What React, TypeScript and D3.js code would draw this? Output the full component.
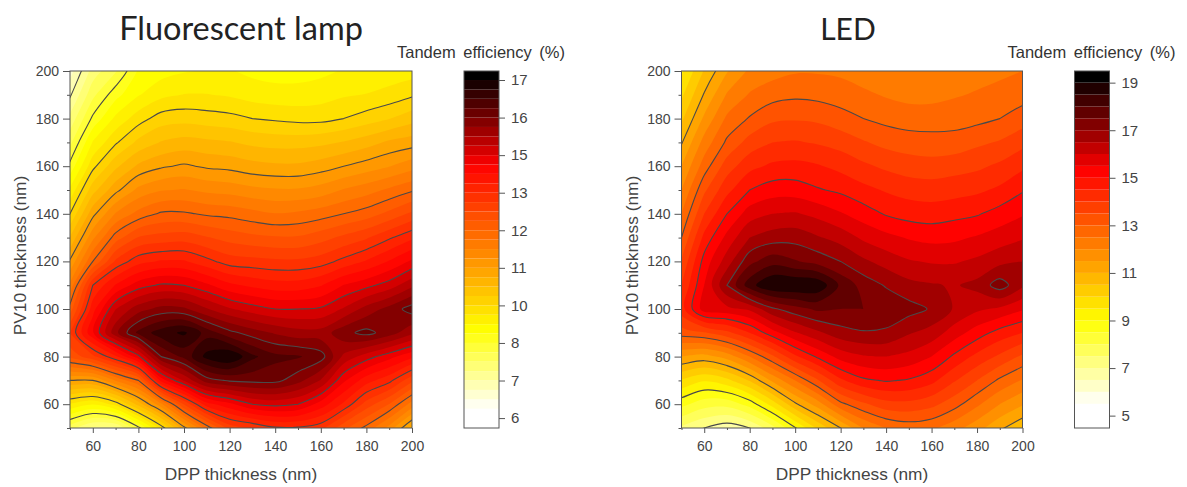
import React, { useEffect, useRef } from 'react';
import * as d3 from 'd3';

// grid of the maps, nm
const dppThickness = [50, 60, 70, 80, 90, 100, 110, 120, 130, 140, 150, 160, 170, 180, 190, 200];
const pvThickness = [50, 60, 70, 80, 90, 100, 110, 120, 130, 140, 150, 160, 170, 180, 190, 200];

const axisMajor = [60, 80, 100, 120, 140, 160, 180, 200];
const axisMinor = [50, 70, 90, 110, 130, 150, 170, 190];

// efficiency, one list per DPP thickness, PV10 going from 50 to 200
const lampEfficiency = [
  [7.9, 9.3, 10.9, 12.55, 13.1, 12.3, 11.6, 10.95, 10.3, 9.65, 9.1, 8.5, 8.0, 7.55, 7.1, 6.7],
  [7.4, 9.05, 10.9, 13.0, 14.3, 13.9, 13.4, 12.15, 11.45, 10.8, 10.15, 9.55, 9.05, 8.47, 8.0, 7.6],
  [7.4, 9.45, 11.55, 13.65, 15.5, 14.95, 14.05, 13.15, 12.3, 11.55, 10.8, 10.2, 9.6, 9.1, 8.6, 8.05],
  [8.3, 10.4, 12.15, 14.55, 16.3, 15.45, 14.5, 13.6, 12.8, 11.95, 11.3, 10.65, 10.05, 9.5, 9.0, 8.75],
  [9.45, 11.45, 14.15, 15.9, 16.7, 15.7, 14.7, 13.75, 12.9, 12.2, 11.5, 10.85, 10.3, 9.8, 9.25, 8.9],
  [10.8, 12.8, 15.0, 16.3, 16.9, 15.65, 14.65, 13.75, 12.95, 12.2, 11.55, 10.95, 10.4, 9.85, 9.35, 9.0],
  [11.95, 13.9, 15.75, 16.95, 16.4, 15.3, 14.4, 13.5, 12.8, 12.1, 11.45, 10.85, 10.35, 9.8, 9.35, 9.05],
  [12.9, 14.25, 15.95, 17.15, 16.0, 15.0, 14.1, 13.25, 12.65, 12.05, 11.4, 10.8, 10.3, 9.75, 9.3, 9.05],
  [13.1, 14.65, 16.0, 16.6, 15.75, 14.8, 13.95, 13.2, 12.55, 11.95, 11.3, 10.7, 10.2, 9.65, 9.2, 8.95],
  [13.35, 14.75, 16.0, 16.3, 15.55, 14.65, 13.85, 13.15, 12.5, 11.85, 11.25, 10.65, 10.15, 9.6, 9.15, 8.9],
  [13.35, 14.65, 15.7, 16.25, 15.4, 14.65, 13.85, 13.15, 12.5, 11.9, 11.25, 10.65, 10.15, 9.55, 9.15, 8.9],
  [13.2, 14.2, 15.25, 16.05, 15.4, 14.7, 14.0, 13.25, 12.65, 12.0, 11.35, 10.75, 10.2, 9.55, 9.2, 8.95],
  [12.55, 13.65, 14.4, 15.2, 15.8, 15.0, 14.35, 13.5, 12.85, 12.15, 11.55, 10.9, 10.3, 9.65, 9.3, 9.05],
  [12.05, 12.95, 13.85, 14.8, 16.0, 15.4, 14.55, 13.75, 13.05, 12.3, 11.7, 11.05, 10.45, 9.8, 9.35, 9.1],
  [11.4, 12.45, 13.5, 14.45, 15.75, 15.7, 14.8, 14.05, 13.35, 12.55, 11.9, 11.2, 10.65, 9.95, 9.45, 9.15],
  [10.5, 11.7, 12.85, 14.1, 15.35, 16.05, 15.2, 14.4, 13.65, 12.85, 12.1, 11.4, 10.75, 10.15, 9.6, 9.2],
];

const ledEfficiency = [
  [7.4, 8.65, 9.95, 11.5, 13.25, 14.3, 14.0, 13.55, 13.0, 12.5, 12.0, 11.5, 10.95, 10.4, 9.9, 9.4],
  [7.0, 8.2, 9.55, 11.3, 13.45, 15.76, 15.5, 15.2, 14.65, 14.0, 13.4, 12.75, 12.2, 11.6, 11.05, 10.55],
  [6.7, 8.17, 9.85, 11.7, 13.85, 15.85, 17.0, 16.25, 15.65, 15.0, 14.35, 13.75, 13.1, 12.6, 12.05, 11.45],
  [7.0, 8.7, 10.55, 12.5, 14.5, 16.1, 18.3, 17.35, 16.5, 15.75, 15.0, 14.35, 13.7, 13.05, 12.55, 12.1],
  [7.8, 9.7, 11.6, 13.4, 15.3, 16.9, 19.0, 17.8, 16.75, 16.0, 15.25, 14.6, 14.0, 13.4, 12.8, 12.3],
  [8.95, 10.9, 12.5, 14.4, 15.95, 17.3, 19.0, 17.55, 16.8, 16.05, 15.25, 14.65, 14.05, 13.45, 12.9, 12.45],
  [10.1, 11.75, 13.45, 15.1, 16.4, 17.6, 18.9, 17.3, 16.55, 15.85, 15.05, 14.55, 13.95, 13.4, 12.85, 12.45],
  [11.0, 12.85, 14.4, 15.7, 16.8, 17.5, 17.9, 17.0, 16.3, 15.55, 14.9, 14.35, 13.8, 13.2, 12.75, 12.4],
  [12.0, 13.4, 14.9, 15.95, 16.95, 17.5, 17.3, 16.6, 15.9, 15.25, 14.65, 14.1, 13.55, 13.0, 12.6, 12.25],
  [12.5, 13.8, 15.05, 16.0, 16.9, 17.4, 16.95, 16.3, 15.65, 14.95, 14.45, 13.9, 13.35, 12.85, 12.45, 12.1],
  [12.7, 13.85, 14.95, 15.85, 16.55, 17.2, 16.65, 16.05, 15.45, 14.8, 14.3, 13.75, 13.25, 12.75, 12.35, 12.05],
  [12.6, 13.65, 14.65, 15.5, 16.3, 16.95, 16.55, 15.95, 15.35, 14.75, 14.25, 13.7, 13.2, 12.75, 12.35, 12.1],
  [12.2, 13.2, 14.05, 14.9, 15.75, 16.45, 16.45, 15.95, 15.4, 14.85, 14.3, 13.8, 13.2, 12.8, 12.45, 12.2],
  [11.7, 12.6, 13.5, 14.35, 15.25, 16.1, 16.65, 16.1, 15.55, 14.95, 14.4, 13.9, 13.4, 12.85, 12.55, 12.3],
  [11.1, 12.0, 12.9, 13.9, 14.8, 15.9, 17.25, 16.35, 15.75, 15.2, 14.6, 14.1, 13.55, 13.0, 12.65, 12.4],
  [10.6, 11.55, 12.45, 13.4, 14.5, 15.55, 16.6, 16.5, 15.95, 15.45, 14.95, 14.4, 13.85, 13.25, 12.8, 12.5],
];

// contour lines, they are also the colour bar ticks
const lampLevels = [5.9, 7.15, 8.4, 9.65, 10.9, 12.15, 13.4, 14.65, 15.9, 17.15];
const ledLevels = [5, 7, 9, 11, 13, 15, 17, 19];

// value where the palette hits white, yellow, red, black
const lampStops = [6.2, 8.85, 14.3, 17.3];
const ledStops = [5.5, 9, 15.3, 19.25];
const heatColors = ['#ffffff', '#ffff00', '#ff0000', '#000000'];

const FONT = '"Liberation Sans", Arial, sans-serif';
const INK = '#444';
const PLOT_TOP = 71;
const PLOT_BOTTOM = 428;

type PanelProps = {
  title: string;
  titleX: number;
  titleSize: number;
  left: number;
  right: number;
  barLeft: number;
  values: number[][];
  levels: number[];
  stops: number[];
  barDomain: number[];
  clipId: string;
};

function Panel(props: PanelProps) {
  const { title, titleX, titleSize, left, right, barLeft, values, levels, stops, barDomain, clipId } = props;
  const xAxisRef = useRef<SVGGElement>(null);
  const yAxisRef = useRef<SVGGElement>(null);
  const barAxisRef = useRef<SVGGElement>(null);

  const x = d3.scaleLinear().domain([50, 200]).range([left, right]);
  const y = d3.scaleLinear().domain([50, 200]).range([PLOT_BOTTOM, PLOT_TOP]);
  const barY = d3.scaleLinear().domain(barDomain).range([PLOT_BOTTOM, PLOT_TOP]);
  const barRight = barLeft + 35;

  const color = d3
    .scaleLinear<string>()
    .domain(stops)
    .range(heatColors)
    .interpolate(d3.interpolateRgb)
    .clamp(true);

  // four colour bands between two ticks
  const step = (levels[1] - levels[0]) / 4;
  const bands = d3.range(1, (levels.length - 1) * 4 + 1).map((i) => levels[0] + i * step);

  // d3.contours wants one flat list, top row first. One extra cell on each side, outside
  // the clip, so the rounded rings don't bend toward the grid border inside the plot
  const nx = dppThickness.length;
  const ny = pvThickness.length;
  const at = (col: number, row: number): number => {
    if (col < 0) return 2 * at(0, row) - at(1, row);
    if (col >= nx) return 2 * at(nx - 1, row) - at(nx - 2, row);
    if (row < 0) return 2 * at(col, 0) - at(col, 1);
    if (row >= ny) return 2 * at(col, ny - 1) - at(col, ny - 2);
    return values[col][row];
  };
  const flat: number[] = [];
  for (let row = ny; row >= -1; row--) {
    for (let col = -1; col <= nx; col++) flat.push(at(col, row));
  }
  const contours = d3.contours().size([nx + 2, ny + 2]);

  // rounds the corners of the marching squares rings, grid points sit on half integers
  const ringLine = d3
    .line<number[]>()
    .x((p) => x(50 + (p[0] - 1.5) * 10))
    .y((p) => y(200 - (p[1] - 1.5) * 10))
    .curve(d3.curveCatmullRomClosed.alpha(0.5));
  const contourPath = (c: d3.ContourMultiPolygon) =>
    c.coordinates
      .flatMap((poly) => poly.map((ring) => ringLine(ring.slice(0, -1) as number[][]) ?? ''))
      .join('');

  useEffect(() => {
    const style = (g: d3.Selection<SVGGElement, unknown, null, undefined>) => {
      g.select('.domain').remove();
      g.selectAll('line').attr('stroke', '#555');
      g.selectAll('text').attr('font-family', FONT).attr('fill', INK);
    };
    const xg = d3.select(xAxisRef.current!);
    xg.selectAll('*').remove();
    xg.append('g')
      .call(d3.axisBottom(x).tickValues(axisMinor).tickSize(2).tickFormat(() => ''))
      .call(style);
    xg.append('g')
      .call(d3.axisBottom(x).tickValues(axisMajor).tickSize(5).tickPadding(8).tickFormat(d3.format('d')))
      .attr('font-size', 14)
      .call(style);

    const yg = d3.select(yAxisRef.current!);
    yg.selectAll('*').remove();
    yg.append('g')
      .call(d3.axisLeft(y).tickValues(axisMinor).tickSize(3).tickFormat(() => ''))
      .call(style);
    yg.append('g')
      .call(d3.axisLeft(y).tickValues(axisMajor).tickSize(7).tickPadding(4).tickFormat(d3.format('d')))
      .attr('font-size', 14)
      .call(style);

    const bg = d3.select(barAxisRef.current!);
    bg.selectAll('*').remove();
    bg.append('g')
      .call(d3.axisRight(barY).tickValues(levels).tickSize(6).tickPadding(6).tickFormat(d3.format('.0f')))
      .attr('font-size', 15)
      .call(style);
  });

  return (
    <g>
      <text x={titleX} y={40} fontFamily="Lato, sans-serif" fontSize={titleSize} fill="#222" textAnchor="middle">
        {title}
      </text>

      <clipPath id={clipId}>
        <rect x={left} y={PLOT_TOP} width={right - left} height={PLOT_BOTTOM - PLOT_TOP} />
      </clipPath>
      <g clipPath={`url(#${clipId})`}>
        <g style={{ filter: 'blur(0.6px)' }}>
          <rect x={left - 5} y={PLOT_TOP - 5} width={right - left + 10} height={PLOT_BOTTOM - PLOT_TOP + 10} fill="#fff" />
          {contours.thresholds(bands)(flat).map((c) => (
            <path key={c.value} d={contourPath(c)} fill={color(c.value + step / 2)} />
          ))}
          {contours.thresholds(levels)(flat).map((c) => (
            <path key={c.value} d={contourPath(c)} fill="none" stroke="#4a4a4a" strokeWidth={1.1} />
          ))}
        </g>
      </g>
      <rect
        x={left}
        y={PLOT_TOP}
        width={right - left}
        height={PLOT_BOTTOM - PLOT_TOP}
        fill="none"
        stroke="#555"
      />
      <g ref={xAxisRef} transform={`translate(0,${PLOT_BOTTOM})`} />
      <g ref={yAxisRef} transform={`translate(${left},0)`} />

      <text x={(left + right) / 2} y={480} fontFamily={FONT} fontSize={17.3} fill={INK} textAnchor="middle">
        DPP thickness (nm)
      </text>
      <text
        transform={`translate(${left - 44},${(PLOT_TOP + PLOT_BOTTOM) / 2 + 6}) rotate(-90)`}
        fontFamily={FONT}
        fontSize={17.3}
        fill={INK}
        textAnchor="middle"
      >
        PV10 thickness (nm)
      </text>

      {/* colour bar */}
      <rect x={barLeft} y={PLOT_TOP} width={35} height={PLOT_BOTTOM - PLOT_TOP} fill="#fff" />
      {bands.map((b, i) => (
        <rect
          key={b}
          x={barLeft}
          y={i === bands.length - 1 ? PLOT_TOP : barY(bands[i + 1])}
          width={35}
          height={barY(b) - (i === bands.length - 1 ? PLOT_TOP : barY(bands[i + 1]))}
          fill={color(b + step / 2)}
        />
      ))}
      <rect x={barLeft} y={PLOT_TOP} width={35} height={PLOT_BOTTOM - PLOT_TOP} fill="none" stroke="#555" />
      <g ref={barAxisRef} transform={`translate(${barRight},0)`} />
      <text
        x={barLeft + 17}
        y={58}
        fontFamily={FONT}
        fontSize={16.5}
        wordSpacing={3}
        fill="#333"
        textAnchor="middle"
      >
        Tandem efficiency (%)
      </text>
    </g>
  );
}

export default function App() {
  return (
    <svg width={1187} height={487} style={{ position: 'absolute', left: 0, top: 0, background: '#fff' }}>
      <Panel
        title="Fluorescent lamp"
        titleX={241}
        titleSize={32.5}
        left={70}
        right={412}
        barLeft={464}
        values={lampEfficiency}
        levels={lampLevels}
        stops={lampStops}
        barDomain={[5.57, 17.45]}
        clipId="clip-lamp"
      />
      <Panel
        title="LED"
        titleX={848}
        titleSize={30}
        left={681.5}
        right={1022.5}
        barLeft={1074.5}
        values={ledEfficiency}
        levels={ledLevels}
        stops={ledStops}
        barDomain={[4.48, 19.49]}
        clipId="clip-led"
      />
    </svg>
  );
}
